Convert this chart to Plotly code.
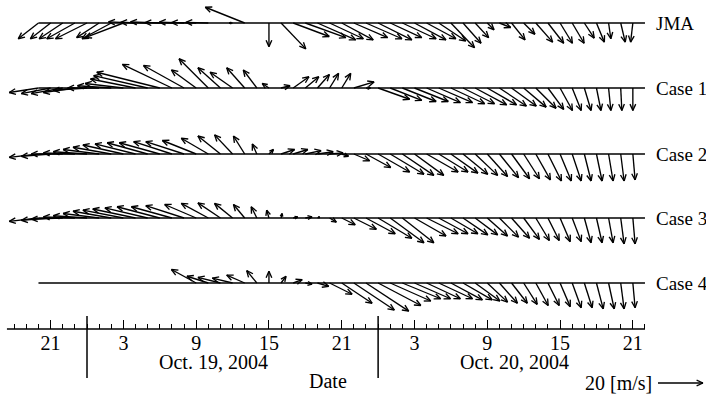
import math
import plotly.graph_objects as go

# ---------------- data ----------------
# hours since Oct. 19, 2004 00:00 (hourly samples)
HOURS = list(range(-4, 46))
ROW_NAMES = ["JMA", "Case 1", "Case 2", "Case 3", "Case 4"]

JMA_U = [-9, -9, -10.5, -12.5, -14, -10, -13, -17, -12, -12, -13, -12, -11, -11, -10, 0, -1.5, -17.5, 0, 0,
         11, 16, 18, 17, 15, 14, 15, 16, 15, 14, 15, 14, 13, 12, 10.5, 8, 6, 3, 5, 6,
         5, 7.5, 7, 5.5, 5.3, 4.4, 3.5, 1, 2, -1]
JMA_V = [-7, -7, -7, -7, -7, -6.5, -7, -6.5, 0.5, 0.3, 0.5, 0.2, 0.4, 0.2, 0.3, 0, 0, 7, 0, -10.5,
         -11.5, -6, -6.5, -7.5, -7, -7.5, -6.5, -7, -7.5, -6.5, -7, -7.5, -7, -8, -11, -9, -6.5, -3, -2, -7.5,
         -5, -8.5, -9, -9, -9, -6.7, -8.5, -7, -8.5, -8.5]

C1_U = [-13, -13, -14, -14, -15, -14, -15, -17, -20, -24, -28, -22, -18, -11, -13, -10, -10, -8, -6, -3,
        4, 7, 6, 5.3, 4, 4, 9, 2, 14, 14, 15, 15, 15, 15, 15, 14, 14, 13, 12, 11,
        10, 9, 7, 5.5, 4, 3, 2, 1, 0.5, 0]
C1_V = [-2, -2.5, -2.5, -2, -1, 0, 1, 2, 4, 5.5, 7, 10.5, 10, 8, 13, 9, 7, 9, 8, 2,
        1, 5, 5, 6, 6.5, 6.5, 2.7, 0, -5, -5.5, -6, -6, -6.5, -6.5, -7, -7, -7.5, -7.5, -8, -8,
        -8.5, -9, -9.5, -10, -10, -10, -10, -10, -10, -10]

C2_U = [-13, -13, -14, -14, -15, -16, -17, -18, -18, -18, -18, -17, -17, -15, -12, -10, -8, -5, -2, 2,
        6, 6.5, 7, 7, 6, 3, 7, 11, 14, 15, 14, 13, 14, 13, 12, 11, 10, 9, 8.5, 8,
        7, 6.5, 6, 5, 4, 3, 2.5, 2, 1.5, 1]
C2_V = [-1.5, -1, 0, 0.5, 1, 2, 3, 4, 4.5, 5, 5, 5.5, 5.5, 6, 7, 8, 8.5, 8, 4.5, 2,
        2, 2, 1.5, 1, 0.5, -1, -3, -6, -8, -9, -9.5, -9.5, -8, -8, -8.5, -9, -9.5, -10, -10.5, -11,
        -11, -11.5, -12, -12, -12, -12, -12, -12, -12, -11.5]

C3_U = [-13, -13, -14, -14, -15, -16, -17, -18, -19, -19, -19, -18, -17, -14, -12, -10, -8, -5, -2.5, -1,
        0.5, 2, 3, 1, 3, 6, 10, 13, 15, 15, 14, 14, 14, 13, 12, 11, 10, 9, 8.5, 8,
        7, 6, 5, 4.5, 4, 3, 2.5, 2, 1.5, 1]
C3_V = [-1.5, -1, -0.5, 0.5, 1, 2, 3, 3.5, 4, 4.5, 5, 5, 5.5, 6, 6.5, 6.7, 6.5, 6, 5, 3.5,
        2, 0.5, 0.5, 0.5, -1.8, -3, -5, -7, -9, -11, -11, -8, -7, -7, -7, -7.5, -7.5, -8, -8.5, -9,
        -9.5, -10, -10, -10.5, -10.5, -11, -11, -11, -11.5, -11.5]

NA = None
C4_U = [NA] * 13 + [-11, -9.5, -10, -9, -8, -4.5, 0, 2.2, 4, 3, 5, 10, 13.5, 18, 19, 19, 18, 17, 16, 15,
                    15, 14, 13, 11, 9, 8, 7, 6, 5.5, 5, 4.5, 4, 3.5, 3, 2.5, 1.5, 1]
C4_V = [NA] * 13 + [6, 3, 2.5, 2.2, 3.5, 5.5, 5.2, 3, 1.5, -0.5, -1.5, -5, -9, -12, -12.5, -10, -8, -7, -7, -7,
                    -7, -7.5, -7.5, -8, -8.5, -9, -9, -9.5, -10, -10, -10.5, -11, -11, -11.5, -11.5, -11.5, -11]

ROWS_U = [JMA_U, C1_U, C2_U, C3_U, C4_U]
ROWS_V = [JMA_V, C1_V, C2_V, C3_V, C4_V]

MAJOR_TICKS = [-3, 3, 9, 15, 21, 27, 33, 39, 45]
MAJOR_LABELS = ["21", "3", "9", "15", "21", "3", "9", "15", "21"]
MINOR_TICKS = list(range(-6, 47))
DAY_BREAKS = [0, 24]
DAY_LABELS = ["Oct. 19, 2004", "Oct. 20, 2004"]
SCALE_SPEED = 20  # m/s reference arrow

# ---------------- layout constants ----------------
W, H = 706, 399
PXH = 12.13          # pixels per hour
X0PX = 87            # pixel of hour 0
S = 2.25             # pixels per m/s
AXIS_Y = H - 329
ROW_Y = [H - 23, H - 88, H - 154, H - 218, H - 283]
T_MIN = -X0PX / PXH
T_MAX = (W - X0PX) / PXH
LINE_START, LINE_END = -4, 46
AXIS_START = -6.6
FONT = "Liberation Serif, Times New Roman, serif"
LW = 1.35


def px2t(px):
    return (px - X0PX) / PXH


def arrows(ts, us, vs, ybase, head=7.0, ang=24):
    xs, ys = [], []
    for t, u, v in zip(ts, us, vs):
        if u is None or v is None or (u == 0 and v == 0):
            continue
        tx, ty = t * PXH, ybase
        dx, dy = u * S, v * S
        hx, hy = tx + dx, ty + dy
        L = math.hypot(dx, dy)
        ux, uy = dx / L, dy / L
        h = min(head, 0.7 * L)
        xs += [tx / PXH, hx / PXH, None]
        ys += [ty, hy, None]
        for sgn in (1, -1):
            a = math.radians(ang) * sgn
            rx = (-ux) * math.cos(a) - (-uy) * math.sin(a)
            ry = (-ux) * math.sin(a) + (-uy) * math.cos(a)
            xs += [hx / PXH, (hx + h * rx) / PXH, None]
            ys += [hy, hy + h * ry, None]
    return xs, ys


fig = go.Figure()
line = dict(color="black", width=LW)
tfont = dict(family=FONT, size=20, color="black")
rfont = dict(family=FONT, size=19, color="black")

for name, us, vs, yb in zip(ROW_NAMES, ROWS_U, ROWS_V, ROW_Y):
    fig.add_trace(go.Scatter(x=[LINE_START, LINE_END], y=[yb, yb], mode="lines",
                             line=dict(color="black", width=1.5), hoverinfo="skip", showlegend=False))
    xs, ys = arrows(HOURS, us, vs, yb)
    fig.add_trace(go.Scatter(x=xs, y=ys, mode="lines", line=line, name=name,
                             hoverinfo="skip", showlegend=False))
    fig.add_annotation(x=px2t(654), y=yb, xref="x", yref="y", text=name, showarrow=False,
                       xanchor="left", yanchor="middle", font=rfont)

# time axis line and day dividers
fig.add_trace(go.Scatter(x=[AXIS_START, LINE_END], y=[AXIS_Y, AXIS_Y], mode="lines",
                         line=dict(color="black", width=1.5), hoverinfo="skip", showlegend=False))
for d in DAY_BREAKS:
    fig.add_trace(go.Scatter(x=[d, d], y=[H - 316, H - 378], mode="lines",
                             line=dict(color="black", width=1.5), hoverinfo="skip", showlegend=False))

for lab, px in zip(DAY_LABELS, [213, 514]):
    fig.add_annotation(x=px2t(px), y=H - 362, xref="x", yref="y", text=lab, showarrow=False,
                       xanchor="center", yanchor="middle", font=tfont)
fig.add_annotation(x=px2t(328), y=H - 381, xref="x", yref="y", text="Date", showarrow=False,
                   xanchor="center", yanchor="middle", font=tfont)

# reference arrow
sx, sy = arrows([px2t(658)], [SCALE_SPEED], [0], H - 383)
fig.add_trace(go.Scatter(x=sx, y=sy, mode="lines", line=line, hoverinfo="skip", showlegend=False))
fig.add_annotation(x=px2t(654), y=H - 383, xref="x", yref="y", text="20 [m/s]", showarrow=False,
                   xanchor="right", yanchor="middle", font=tfont)

fig.update_layout(
    width=W, height=H, margin=dict(l=0, r=0, t=0, b=0),
    paper_bgcolor="white", plot_bgcolor="white",
    xaxis=dict(range=[T_MIN, T_MAX], anchor="free", position=AXIS_Y / H,
               showline=False, showgrid=False, zeroline=False,
               tickmode="array", tickvals=MAJOR_TICKS, ticktext=MAJOR_LABELS,
               ticks="inside", ticklen=9, tickwidth=1.3, tickcolor="black",
               tickfont=tfont,
               minor=dict(tickmode="array", tickvals=MINOR_TICKS, ticks="inside",
                          ticklen=5, tickwidth=1.2, tickcolor="black", showgrid=False),
               fixedrange=True),
    yaxis=dict(range=[0, H], visible=False, fixedrange=True),
)

fig.write_html("out.html", config={"displayModeBar": False},
               post_script="document.body.style.margin='0px';")
